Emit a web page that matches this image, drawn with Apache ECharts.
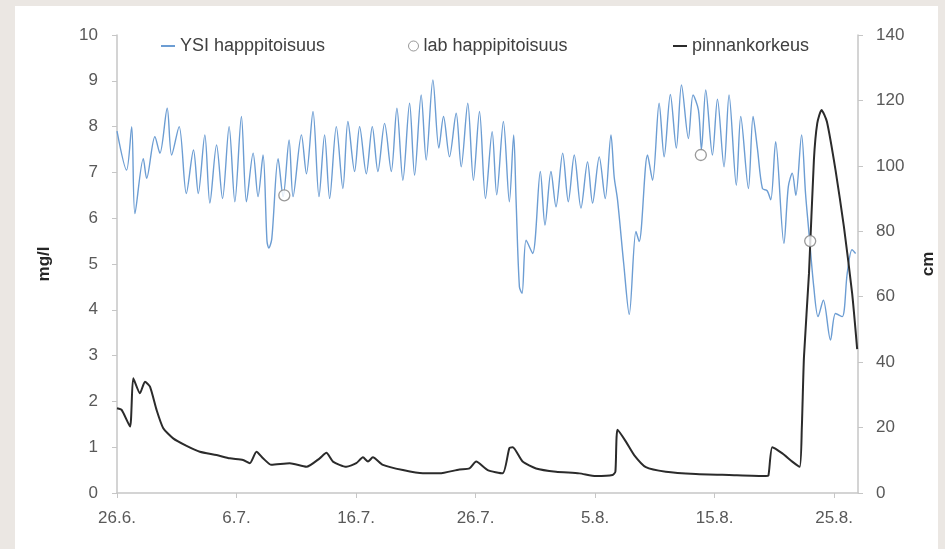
<!DOCTYPE html>
<html>
<head>
<meta charset="utf-8">
<script src="https://cdn.jsdelivr.net/npm/echarts@6/dist/echarts.min.js"></script>
<style>
  html, body { margin: 0; padding: 0; background: #ebe7e3; }
  #chart { width: 945px; height: 549px; }
</style>
</head>
<body>
<div id="chart"></div>
<script>
// Days counted from 26.6. (day 0)
const xTickDays = [0, 10, 20, 30, 40, 50, 60];
const xTickLabels = ['26.6.', '6.7.', '16.7.', '26.7.', '5.8.', '15.8.', '25.8.'];

// YSI dissolved oxygen sensor, mg/l
const ysiDay = [
  0.0, 0.8, 1.23, 1.5, 2.2, 2.48, 3.17, 3.59, 4.2, 4.57, 5.2, 5.8, 6.4, 6.8, 7.35, 7.77,
  8.33, 8.83, 9.38, 9.86, 10.41, 10.83, 11.39, 11.8, 12.22, 12.55, 12.7, 12.95, 13.48, 13.9,
  14.4, 14.73, 15.43, 15.85, 16.4, 16.9, 17.37, 17.79, 18.35, 18.9, 19.32, 19.88, 20.3, 20.86,
  21.36, 21.83, 22.39, 22.95, 23.42, 23.92, 24.48, 24.9, 25.45, 25.87, 26.43, 26.93, 27.32,
  27.82, 28.38, 28.8, 29.35, 29.82, 30.33, 30.83, 31.39, 31.77, 32.33, 32.83, 33.19, 33.39,
  33.67, 33.89, 34.23, 34.78, 35.42, 35.81, 36.31, 36.73, 37.29, 37.76, 38.26, 38.82, 39.37,
  39.79, 40.35, 40.85, 41.33, 41.6, 41.88, 42.4, 42.86, 43.42, 43.69, 44.39, 44.81, 45.36,
  45.78, 46.3, 46.8, 47.23, 47.81, 48.2, 48.65, 48.9, 49.26, 49.82, 50.24, 50.79, 51.21,
  51.82, 52.19, 52.83, 53.22, 53.58, 54.0, 54.4, 54.7, 55.11, 55.8, 56.17, 56.5, 56.8, 57.28,
  57.61, 57.9, 58.3, 58.66, 59.1, 59.7, 60.12, 60.68, 61.1, 61.5, 61.8
];
const ysiVal = [
  7.9, 7.05, 8.0, 6.1, 7.3, 6.87, 7.78, 7.42, 8.4, 7.38, 8.0, 6.54, 7.49, 6.54, 7.82, 6.33,
  7.6, 6.43, 8.0, 6.36, 8.22, 6.36, 7.42, 6.47, 7.38, 5.5, 5.35, 5.55, 7.3, 6.47,
  7.71, 6.47, 7.82, 6.97, 8.33, 6.47, 7.82, 6.43, 8.0, 6.65, 8.11, 7.02, 8.0, 6.97,
  8.0, 7.02, 8.07, 7.02, 8.4, 6.83, 8.51, 6.94, 8.69, 7.27, 9.02, 7.53, 8.22,
  7.34, 8.29, 7.12, 8.51, 6.83, 8.33, 6.43, 7.89, 6.51, 8.11, 6.36, 7.82, 6.4,
  4.5, 4.36, 5.52, 5.23, 7.02, 5.85, 7.02, 6.25, 7.42, 6.36, 7.38, 6.22, 7.23,
  6.33, 7.34, 6.43, 7.82, 6.9, 6.4, 5.0, 3.9, 5.71, 5.49, 7.38, 6.83, 8.51,
  7.34, 8.7, 7.53, 8.91, 7.74, 8.69, 8.36, 7.5, 8.8, 7.38, 8.6, 7.12, 8.69,
  6.72, 8.22, 6.65, 8.22, 7.53, 6.65, 6.6, 6.4, 7.67, 5.45, 6.69, 6.98, 6.5, 7.82,
  6.54, 5.67, 4.5, 3.85, 4.21, 3.34, 3.92, 3.85, 4.8, 5.31, 5.23
];

// Laboratory oxygen samples, mg/l
const labDay = [14.0, 48.85, 58.0];
const labVal = [6.5, 7.38, 5.5];

// Water level, cm
const levelDay = [
  0, 0.39, 1.09, 1.36, 1.92, 2.34, 2.76, 3.31, 3.87, 4.7, 5.82, 6.93, 8.33, 9.44, 10.55,
  11.11, 11.67, 12.22, 12.92, 14.45, 15.85, 16.96, 17.52, 18.07, 19.19, 20.02, 20.58, 21.0,
  21.41, 22.25, 23.92, 25.59, 26.98, 28.65, 29.49, 30.05, 31.02, 32.27, 32.83, 33.11, 33.94,
  35.06, 36.73, 38.68, 40.07, 41.46, 41.7, 41.88, 42.58, 43.27, 44.25, 45.92, 48.43, 51.21,
  54.28, 54.5, 54.83, 55.67, 56.5, 57.12, 57.3, 57.48, 57.9, 58.31, 58.59, 58.95, 59.4,
  60.12, 60.82, 61.51, 61.93
];
const levelCm = [
  25.9, 25.4, 20.3, 35.1, 30.5, 34.0, 32.5, 25.4, 19.8, 16.7, 14.4, 12.6, 11.6, 10.6, 10.1,
  9.1, 12.6, 10.6, 8.6, 9.1, 8.0, 10.6, 12.3, 9.6, 8.0, 9.1, 10.9, 9.6,
  10.9, 8.6, 7.0, 6.0, 6.0, 7.2, 7.5, 9.6, 7.0, 6.0, 13.7, 14.0, 9.6,
  7.5, 6.5, 6.0, 5.2, 5.5, 6.5, 19.3, 15.7, 11.6, 7.9, 6.5, 5.8, 5.5,
  5.2, 5.3, 14.0, 12.1, 9.6, 8.0, 20, 41.7, 67.2, 101.8, 113, 117.1, 113.5,
  98.7, 81.4, 61.0, 44
];

const pairs = (xs, ys) => xs.map((x, i) => [x, ys[i]]);

const axisGrey = '#c6c6c6';
const fontFamily = 'Liberation Sans';
const labelStyle = { color: '#595959', fontSize: 17, fontFamily };
const legendText = { color: '#404040', fontSize: 18, fontFamily };
const titleStyle = { color: '#262626', fontSize: 17, fontWeight: 'bold', fontFamily };

const chart = echarts.init(document.getElementById('chart'), null, { renderer: 'canvas' });
chart.setOption({
  animation: false,
  backgroundColor: '#ebe7e3',
  graphic: [{
    type: 'rect', z: -10, silent: true,
    shape: { x: 15, y: 6, width: 923, height: 560 },
    style: { fill: '#ffffff' }
  }],
  grid: { left: 117, right: 85, top: 35, bottom: 56 },
  legend: [
    {
      left: 156, top: 32, itemWidth: 14, itemHeight: 2, textStyle: legendText,
      data: [{ name: 'YSI happpitoisuus', icon: 'rect' }]
    },
    {
      left: 403, top: 32, itemWidth: 10, itemHeight: 10, textStyle: legendText,
      data: [{ name: 'lab happipitoisuus', icon: 'circle',
               itemStyle: { color: '#ffffff', borderColor: '#7f7f7f', borderWidth: 1 } }]
    },
    {
      left: 668, top: 32, itemWidth: 14, itemHeight: 2, textStyle: legendText,
      data: [{ name: 'pinnankorkeus', icon: 'rect' }]
    }
  ],
  xAxis: {
    type: 'value', min: 0, max: 62, interval: 10,
    splitLine: { show: false },
    axisLine: { lineStyle: { color: axisGrey, width: 1.5 } },
    axisTick: { show: true, length: 5, lineStyle: { color: axisGrey }, customValues: xTickDays },
    axisLabel: Object.assign({}, labelStyle, {
      margin: 17,
      customValues: xTickDays,
      formatter: v => xTickLabels[xTickDays.indexOf(Math.round(v))] || ''
    })
  },
  yAxis: [
    {
      type: 'value', min: 0, max: 10, interval: 1, position: 'left',
      name: 'mg/l', nameLocation: 'middle', nameGap: 64, nameRotate: 90,
      nameTextStyle: titleStyle,
      splitLine: { show: false },
      axisLine: { show: true, lineStyle: { color: axisGrey, width: 1.5 } },
      axisTick: { show: true, length: 5, lineStyle: { color: axisGrey } },
      axisLabel: Object.assign({}, labelStyle, { margin: 19 })
    },
    {
      type: 'value', min: 0, max: 140, interval: 20, position: 'right',
      name: 'cm', nameLocation: 'middle', nameGap: 62, nameRotate: 90,
      nameTextStyle: titleStyle,
      splitLine: { show: false },
      axisLine: { show: true, lineStyle: { color: axisGrey, width: 1.5 } },
      axisTick: { show: true, length: 5, lineStyle: { color: axisGrey } },
      axisLabel: Object.assign({}, labelStyle, { margin: 18 })
    }
  ],
  series: [
    {
      name: 'YSI happpitoisuus', type: 'line', yAxisIndex: 0,
      data: pairs(ysiDay, ysiVal), smooth: 0.3, showSymbol: false,
      lineStyle: { color: '#6c9dd3', width: 1.4 }, itemStyle: { color: '#6c9dd3' }, z: 3
    },
    {
      name: 'lab happipitoisuus', type: 'scatter', yAxisIndex: 0,
      data: pairs(labDay, labVal), symbol: 'circle', symbolSize: 11,
      itemStyle: { color: '#ffffff', borderColor: '#7f7f7f', borderWidth: 1.3 }, z: 5
    },
    {
      name: 'pinnankorkeus', type: 'line', yAxisIndex: 1,
      data: pairs(levelDay, levelCm), smooth: 0.2, showSymbol: false,
      lineStyle: { color: '#2b2b2b', width: 2 }, itemStyle: { color: '#2b2b2b' }, z: 4
    }
  ]
});
</script>
</body>
</html>
